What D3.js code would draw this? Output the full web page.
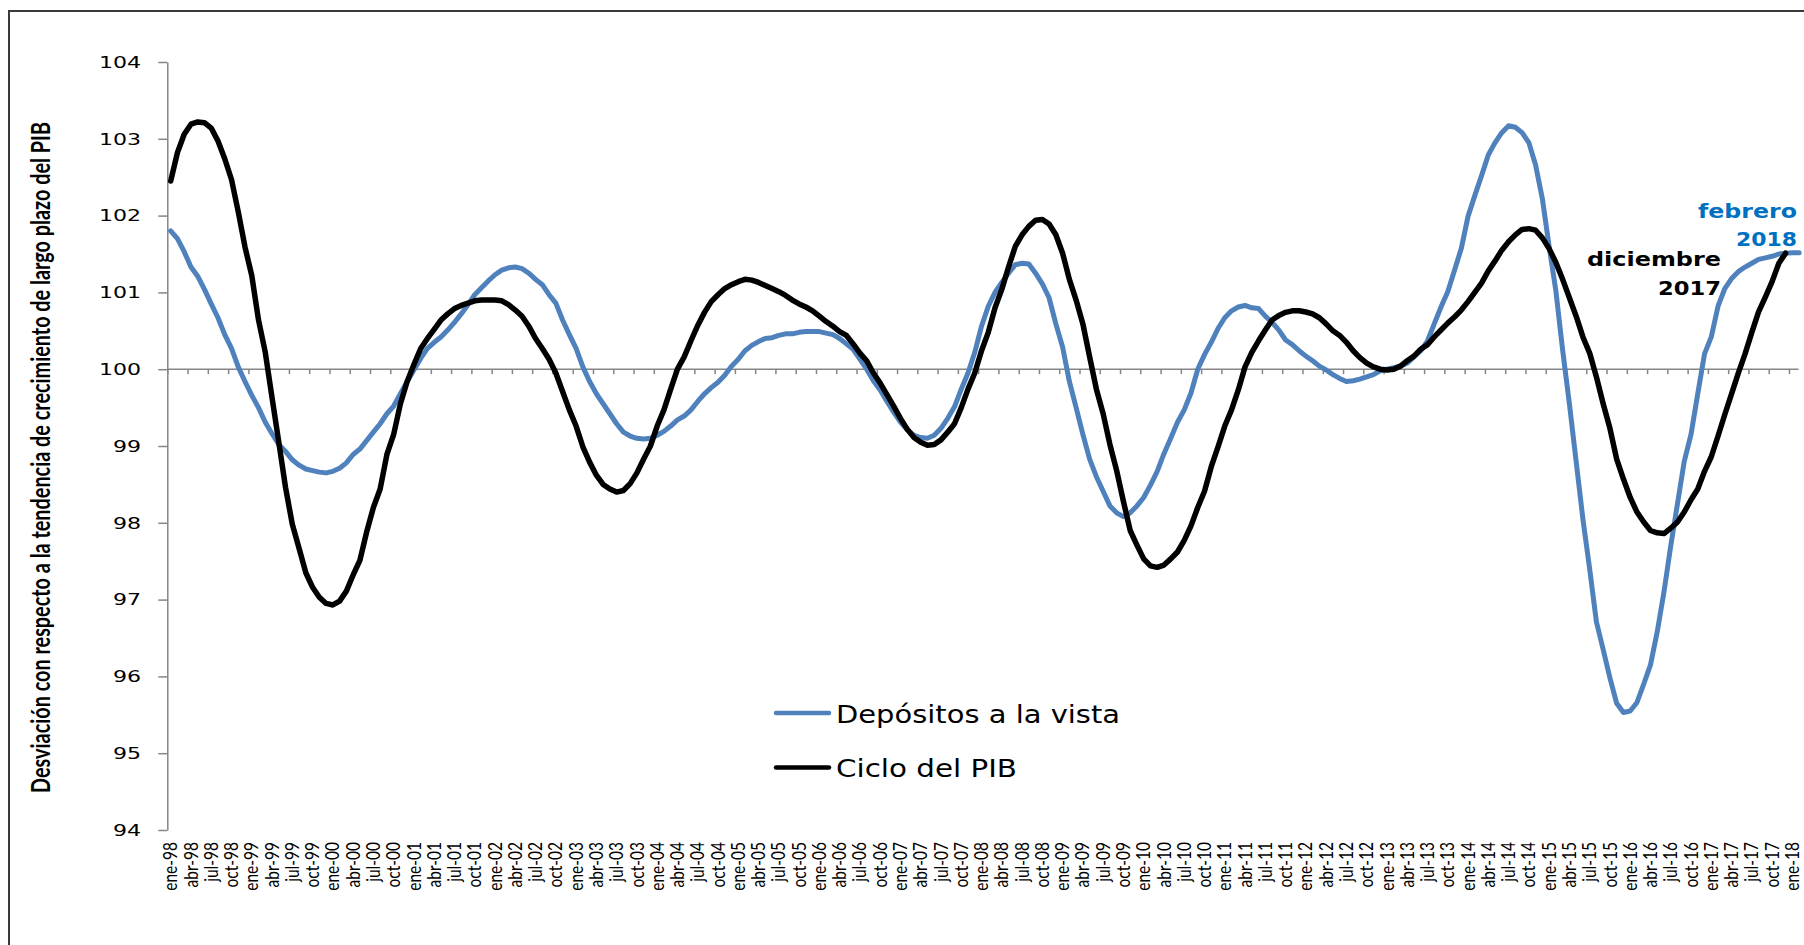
<!DOCTYPE html>
<html><head><meta charset="utf-8">
<script src="https://cdn.jsdelivr.net/npm/d3@7"></script>
<style>body{margin:0;background:#fff} svg{display:block}</style>
</head><body><svg id="chart" width="1804" height="945"></svg>
<script>
// Quarterly category labels (every 3rd monthly category, ene-98 .. ene-18)
const xTickLabels = [
 "ene-98","abr-98","jul-98","oct-98","ene-99","abr-99","jul-99","oct-99",
 "ene-00","abr-00","jul-00","oct-00","ene-01","abr-01","jul-01","oct-01",
 "ene-02","abr-02","jul-02","oct-02","ene-03","abr-03","jul-03","oct-03",
 "ene-04","abr-04","jul-04","oct-04","ene-05","abr-05","jul-05","oct-05",
 "ene-06","abr-06","jul-06","oct-06","ene-07","abr-07","jul-07","oct-07",
 "ene-08","abr-08","jul-08","oct-08","ene-09","abr-09","jul-09","oct-09",
 "ene-10","abr-10","jul-10","oct-10","ene-11","abr-11","jul-11","oct-11",
 "ene-12","abr-12","jul-12","oct-12","ene-13","abr-13","jul-13","oct-13",
 "ene-14","abr-14","jul-14","oct-14","ene-15","abr-15","jul-15","oct-15",
 "ene-16","abr-16","jul-16","oct-16","ene-17","abr-17","jul-17","oct-17","ene-18"
];
const yTicks = [94,95,96,97,98,99,100,101,102,103,104];
const seriesNames = ["Depósitos a la vista","Ciclo del PIB"];

// Monthly values, ene-98 .. feb-18
const depositos = [
 101.80,101.70,101.53,101.33,101.21,101.04,100.85,100.67,100.45,100.27,
 100.03,99.84,99.66,99.50,99.31,99.16,99.02,98.93,98.82,98.75,
 98.70,98.68,98.66,98.65,98.67,98.71,98.78,98.89,98.96,99.07,
 99.18,99.29,99.42,99.52,99.68,99.84,99.99,100.14,100.27,100.35,
 100.42,100.51,100.61,100.72,100.84,100.97,101.06,101.15,101.23,101.29,
 101.32,101.33,101.31,101.25,101.17,101.10,100.97,100.86,100.64,100.45,
 100.27,100.03,99.84,99.68,99.55,99.42,99.29,99.18,99.13,99.10,
 99.09,99.10,99.14,99.19,99.26,99.34,99.39,99.47,99.58,99.68,
 99.76,99.83,99.92,100.04,100.13,100.24,100.31,100.36,100.40,100.41,
 100.44,100.46,100.46,100.48,100.49,100.49,100.49,100.47,100.45,100.40,
 100.33,100.26,100.13,100.00,99.85,99.73,99.58,99.44,99.31,99.21,
 99.14,99.11,99.10,99.14,99.23,99.36,99.51,99.74,99.95,100.22,
 100.56,100.82,101.00,101.13,101.25,101.36,101.38,101.37,101.25,101.11,
 100.93,100.59,100.29,99.84,99.50,99.15,98.83,98.60,98.41,98.22,
 98.13,98.08,98.13,98.22,98.33,98.49,98.67,98.90,99.10,99.31,
 99.47,99.69,100.00,100.19,100.35,100.53,100.67,100.76,100.81,100.83,
 100.80,100.79,100.69,100.61,100.51,100.38,100.32,100.24,100.17,100.11,
 100.04,99.99,99.93,99.88,99.84,99.85,99.87,99.90,99.93,99.98,
 100.00,100.02,100.04,100.08,100.16,100.24,100.37,100.59,100.81,101.01,
 101.29,101.57,101.99,102.26,102.52,102.79,102.95,103.08,103.17,103.15,
 103.08,102.95,102.66,102.22,101.60,101.02,100.25,99.55,98.80,98.05,
 97.40,96.71,96.35,95.98,95.65,95.53,95.55,95.66,95.90,96.15,
 96.58,97.10,97.70,98.25,98.80,99.15,99.68,100.20,100.42,100.82,
 101.05,101.18,101.27,101.33,101.38,101.43,101.45,101.47,101.50,101.51,
 101.515,101.515
];
// Monthly values, ene-98 .. dic-17
const cicloPIB = [
 102.45,102.82,103.06,103.19,103.22,103.21,103.14,102.97,102.74,102.47,
 102.05,101.59,101.22,100.64,100.22,99.63,99.05,98.46,97.98,97.67,
 97.35,97.16,97.03,96.95,96.93,96.98,97.11,97.32,97.51,97.88,
 98.20,98.44,98.89,99.15,99.55,99.84,100.06,100.27,100.40,100.52,
 100.64,100.72,100.79,100.83,100.86,100.89,100.90,100.90,100.90,100.89,
 100.84,100.77,100.69,100.56,100.40,100.27,100.13,99.95,99.71,99.47,
 99.26,98.99,98.79,98.62,98.50,98.44,98.40,98.42,98.51,98.65,
 98.83,99.00,99.26,99.47,99.74,100.00,100.16,100.37,100.57,100.74,
 100.88,100.97,101.05,101.10,101.14,101.17,101.16,101.13,101.09,101.05,
 101.01,100.96,100.90,100.85,100.81,100.76,100.69,100.62,100.56,100.49,
 100.44,100.33,100.21,100.11,99.95,99.82,99.67,99.52,99.36,99.22,
 99.11,99.05,99.01,99.02,99.08,99.18,99.29,99.50,99.74,99.95,
 100.24,100.48,100.80,101.04,101.33,101.60,101.75,101.86,101.94,101.95,
 101.89,101.75,101.51,101.17,100.90,100.59,100.16,99.74,99.42,99.02,
 98.68,98.28,97.90,97.71,97.53,97.44,97.42,97.45,97.53,97.62,
 97.77,97.96,98.20,98.41,98.73,98.99,99.26,99.47,99.73,100.03,
 100.22,100.37,100.51,100.64,100.70,100.74,100.76,100.76,100.745,100.72,
 100.67,100.59,100.50,100.44,100.35,100.24,100.15,100.08,100.03,100.00,
 99.99,100.00,100.04,100.11,100.17,100.26,100.32,100.42,100.51,100.60,
 100.68,100.77,100.88,101.00,101.12,101.28,101.41,101.55,101.66,101.75,
 101.82,101.83,101.81,101.71,101.57,101.39,101.17,100.93,100.69,100.42,
 100.21,99.90,99.55,99.23,98.83,98.57,98.33,98.14,98.01,97.90,
 97.87,97.86,97.93,98.01,98.14,98.30,98.44,98.67,98.86,99.13,
 99.41,99.68,99.95,100.20,100.48,100.745,100.94,101.14,101.38,101.51
];

const BLUE = "#4F81BD", BLACK = "#000000", AXIS = "#868686", NOTE_BLUE = "#0070C0";

const svg = d3.select("#chart");
svg.append("rect").attr("width",1804).attr("height",945).attr("fill","#fff");
svg.append("rect").attr("x",9).attr("y",11).attr("width",1820).attr("height",960)
  .attr("fill","none").attr("stroke","#3a3a3a").attr("stroke-width",2);

const nCat = 242;
const x = d3.scaleLinear().domain([-0.5, nCat - 0.5]).range([167.3, 1802.5]);
const y = d3.scaleLinear().domain([94, 104]).range([830, 62]);

// Y axis
const gy = svg.append("g").attr("transform", `translate(${x(-0.5)},0)`)
  .call(d3.axisLeft(y).tickValues(yTicks).tickSize(9).tickSizeOuter(0).tickFormat(""));
gy.select(".domain").attr("stroke", AXIS).attr("stroke-width", 1.5);
gy.selectAll(".tick line").attr("stroke", AXIS).attr("stroke-width", 1.5);
svg.append("g").selectAll("text").data(yTicks).join("text")
  .attr("transform", d => `translate(141,${y(d)}) scale(1.38,1)`)
  .attr("text-anchor","end").attr("dy","0.36em")
  .style("font-family","'DejaVu Sans', Verdana, sans-serif").style("font-size","16px")
  .attr("fill","#000").text(d => d);

// Horizontal axis crossing at 100
const boundaryTicks = d3.range(0, xTickLabels.length).map(k => 3*k - 0.5);
const gx = svg.append("g").attr("transform", `translate(0,${y(100)})`)
  .call(d3.axisBottom(x).tickValues(boundaryTicks).tickSize(5).tickSizeOuter(0).tickFormat(""));
gx.select(".domain").attr("stroke", AXIS).attr("stroke-width", 1.5)
  .attr("d", `M${x(-0.5)},0H${x(nCat - 0.5) - 4}`);
gx.selectAll(".tick line").attr("stroke", AXIS).attr("stroke-width", 1.5);

// Category labels (low position)
svg.append("g").selectAll("text").data(xTickLabels).join("text")
  .attr("transform", (d,k) => `translate(${x(3*k)},842) rotate(-90) scale(1,1.18)`)
  .attr("text-anchor","end").attr("dy","0.36em")
  .style("font-family","Lato, 'Open Sans', sans-serif").style("font-size","15.5px")
  .attr("fill","#000").text(d => d);

// Y axis title
svg.append("text")
  .attr("transform","translate(49.5,457.5) rotate(-90) scale(1,1.3)")
  .attr("text-anchor","middle")
  .attr("textLength", 671).attr("lengthAdjust","spacingAndGlyphs")
  .style("font-family","Lato, sans-serif").style("font-weight","700").style("font-size","20px")
  .attr("fill","#000")
  .text("Desviación con respecto a la tendencia de crecimiento de largo plazo del PIB");

// Lines
const line = d3.line().x((d,i) => x(i)).y(d => y(d));
svg.append("path").datum(depositos).attr("d", line)
  .attr("fill","none").attr("stroke", BLUE).attr("stroke-width", 5)
  .attr("stroke-linejoin","round").attr("stroke-linecap","round");
svg.append("path").datum(cicloPIB).attr("d", line)
  .attr("fill","none").attr("stroke", BLACK).attr("stroke-width", 5.5)
  .attr("stroke-linejoin","round").attr("stroke-linecap","round");

// Legend
const legend = [
  {name: seriesNames[0], color: BLUE, ly: 713, ty: 723, len: 284},
  {name: seriesNames[1], color: BLACK, ly: 767.5, ty: 777, len: 181}
];
const lg = svg.append("g");
legend.forEach(l => {
  lg.append("line").attr("x1",776).attr("x2",829).attr("y1",l.ly).attr("y2",l.ly)
    .attr("stroke", l.color).attr("stroke-width", 4.5).attr("stroke-linecap","round");
  lg.append("text").attr("x",836).attr("y",l.ty)
    .attr("textLength", l.len).attr("lengthAdjust","spacingAndGlyphs")
    .style("font-family","'DejaVu Sans', Verdana, sans-serif").style("font-size","25px")
    .attr("fill","#000").text(l.name);
});

// Annotations
const notes = [
  {t:"febrero", x:1797, y:217.5, c:NOTE_BLUE, len:99},
  {t:"2018", x:1797, y:246, c:NOTE_BLUE, len:61},
  {t:"diciembre", x:1721, y:266, c:"#000", len:134},
  {t:"2017", x:1721, y:295, c:"#000", len:63}
];
svg.append("g").selectAll("text").data(notes).join("text")
  .attr("x", d => d.x).attr("y", d => d.y).attr("text-anchor","end")
  .attr("textLength", d => d.len).attr("lengthAdjust","spacingAndGlyphs")
  .style("font-family","'DejaVu Sans', Verdana, sans-serif").style("font-weight","700").style("font-size","19px")
  .attr("fill", d => d.c).text(d => d.t);
</script>
</body></html>
